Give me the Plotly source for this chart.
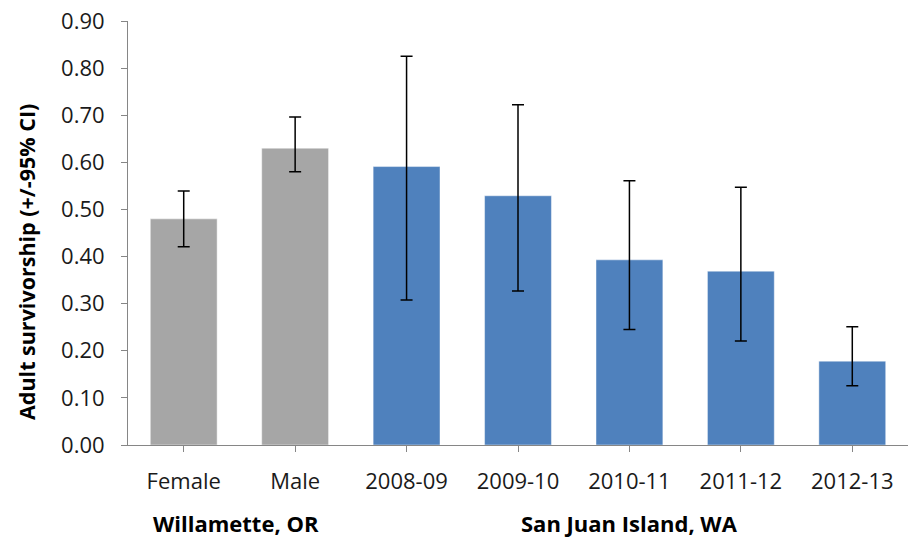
import plotly.graph_objects as go

# Adult survivorship estimates with 95% confidence limits
categories = ["Female", "Male", "2008-09", "2009-10", "2010-11", "2011-12", "2012-13"]
survival = [0.480, 0.630, 0.591, 0.529, 0.393, 0.369, 0.178]
ci_lower = [0.421, 0.580, 0.308, 0.327, 0.245, 0.221, 0.126]
ci_upper = [0.539, 0.696, 0.825, 0.722, 0.561, 0.547, 0.251]
site = ["Willamette", "Willamette", "San Juan", "San Juan", "San Juan", "San Juan", "San Juan"]

site_colors = {"Willamette": "#A6A6A6", "San Juan": "#4F81BD"}
bar_colors = [site_colors[s] for s in site]

err_plus = [u - v for u, v in zip(ci_upper, survival)]
err_minus = [v - l for v, l in zip(survival, ci_lower)]

font_family = "Open Sans, Liberation Sans, sans-serif"
axis_grey = "#868686"

fig = go.Figure(
    go.Bar(
        x=categories,
        y=survival,
        marker=dict(color=bar_colors, line=dict(color="rgba(255,255,255,0.45)", width=1)),
        error_y=dict(
            type="data",
            symmetric=False,
            array=err_plus,
            arrayminus=err_minus,
            color="#000000",
            thickness=1.5,
            width=6,
        ),
        width=0.6,
        showlegend=False,
        hoverinfo="skip",
    )
)

fig.update_layout(
    width=908,
    height=537,
    margin=dict(l=128, r=0, t=21, b=92),
    paper_bgcolor="white",
    plot_bgcolor="white",
    font=dict(family=font_family, color="#000000"),
    xaxis=dict(
        type="category",
        automargin=False,
        showline=True,
        linecolor=axis_grey,
        linewidth=1,
        ticks="outside",
        ticklen=6,
        tickcolor=axis_grey,
        tickfont=dict(size=22, color="#1a1a1a"),
        ticklabelstandoff=11,
        tickangle=0,
        showgrid=False,
        zeroline=False,
        range=[-0.5, 6.5],
    ),
    yaxis=dict(
        automargin=False,
        range=[0, 0.9],
        dtick=0.1,
        tickformat=".2f",
        showline=True,
        linecolor=axis_grey,
        linewidth=1,
        ticks="outside",
        ticklen=6,
        tickcolor=axis_grey,
        tickfont=dict(size=22, color="#1a1a1a"),
        ticklabelstandoff=12,
        showgrid=False,
        zeroline=False,
    ),
    annotations=[
        dict(
            text="<b>Adult survivorship (+/-95% CI)</b>",
            xref="paper", yref="paper",
            x=0, y=0.5,
            xshift=-102, yshift=-29,
            textangle=-90,
            showarrow=False,
            font=dict(size=21.5, family=font_family, color="#000000"),
            xanchor="center", yanchor="middle",
        ),
        dict(
            text="<b>Willamette, OR</b>",
            xref="x", yref="paper",
            x=0.5, y=0,
            xshift=-3,
            yshift=-78,
            showarrow=False,
            font=dict(size=22, family=font_family, color="#000000"),
            xanchor="center", yanchor="middle",
        ),
        dict(
            text="<b>San Juan Island, WA</b>",
            xref="x", yref="paper",
            x=4, y=0,
            yshift=-78,
            showarrow=False,
            font=dict(size=22, family=font_family, color="#000000"),
            xanchor="center", yanchor="middle",
        ),
    ],
)

fig.write_html("out.html")
